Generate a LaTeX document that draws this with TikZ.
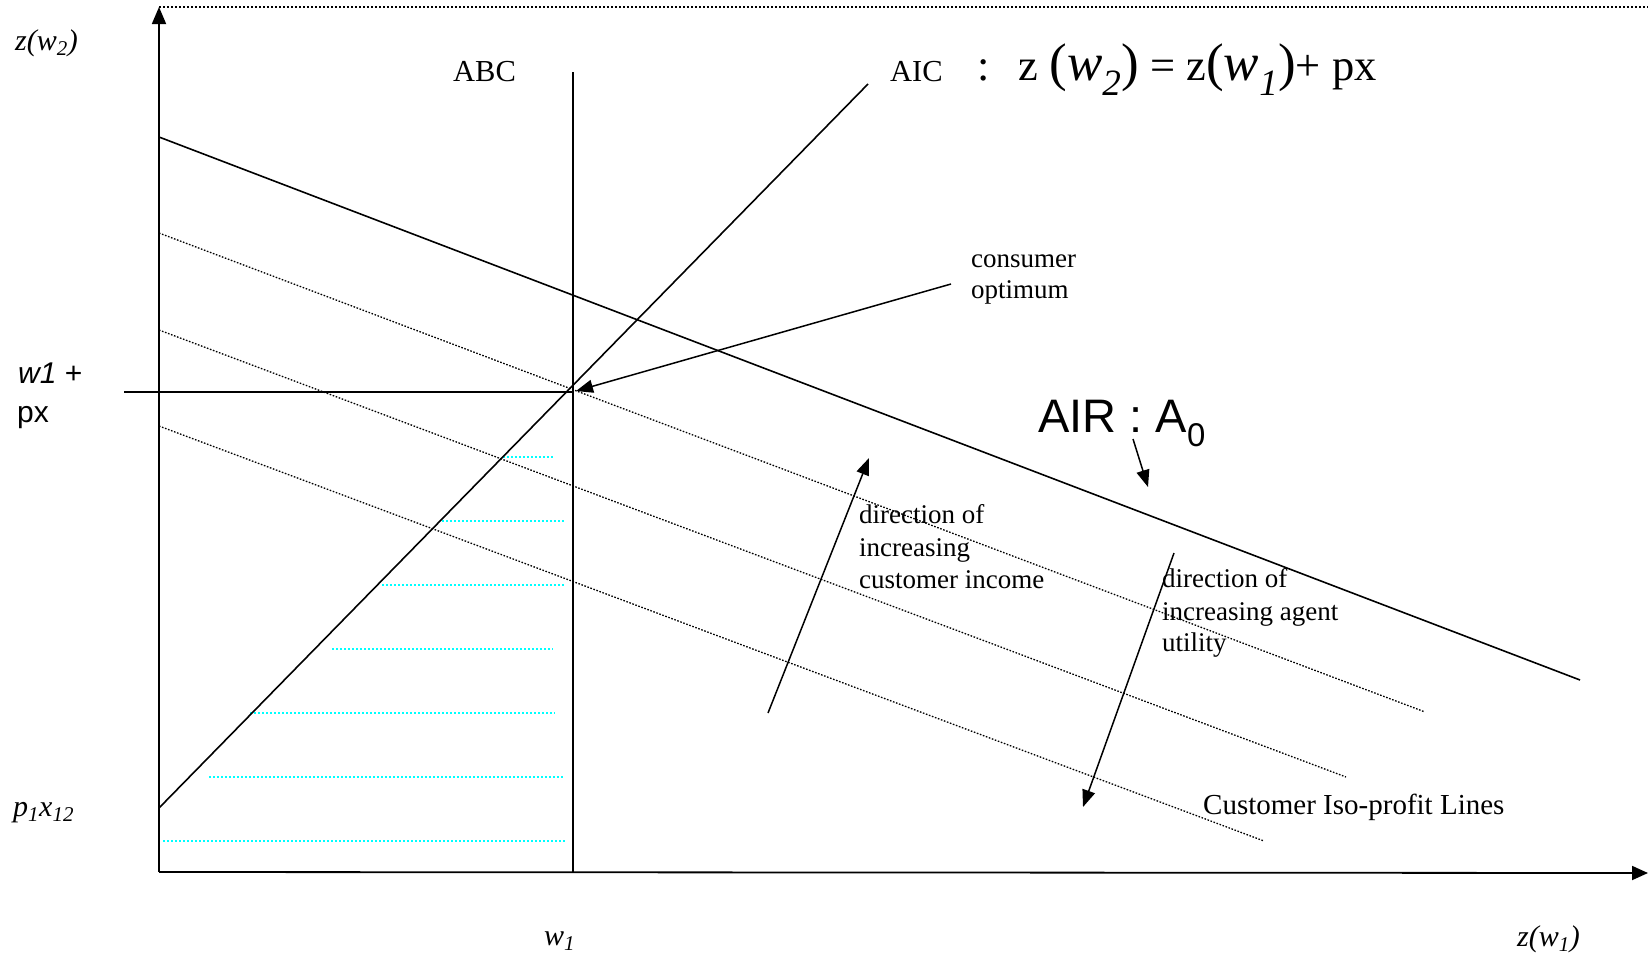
\documentclass[tikz,border=0pt]{standalone}
\usepackage{fontspec}
\setmainfont{Liberation Serif}
\newfontfamily\arialfont{Liberation Sans}
\usetikzlibrary{arrows.meta}
\definecolor{shadecyan}{RGB}{0,255,255}
\begin{document}
\begin{tikzpicture}[x=1pt,y=-1pt,
  axisline/.style={line width=1.8pt},
  curveline/.style={line width=1.6pt},
  isoline/.style={line width=1.3pt, dash pattern=on 1.6pt off 1.6pt},
  topline/.style={line width=1.6pt, dash pattern=on 2pt off 2pt},
  shadeline/.style={shadecyan, line width=1.8pt, dash pattern=on 2pt off 2pt},
  tipped/.style={line width=1.5pt, -{Triangle[length=17pt,width=13pt]}},
  lbl/.style={inner sep=0pt, anchor=base west, font=\fontsize{27}{32}\selectfont},
  biglbl/.style={inner sep=0pt, anchor=base west, font=\fontsize{30.5}{36}\selectfont},
  axlbl/.style={inner sep=0pt, anchor=base west, font=\fontsize{30}{36}\selectfont\itshape},
  sanslbl/.style={inner sep=0pt, anchor=base west, font=\arialfont\fontsize{30}{36}\selectfont},
]
\useasboundingbox (0,0) rectangle (1648,956);

% coordinates
\coordinate (O) at (159,872);
\coordinate (Ytop) at (159,7);
\coordinate (Xend) at (1648,873);
\coordinate (TopR) at (1648,7);
\coordinate (ABCtop) at (573,72);
\coordinate (ABCbot) at (573,872);
\coordinate (AICs) at (159,808);
\coordinate (AICe) at (868,84);
\coordinate (AIRs) at (159,137);
\coordinate (AIRe) at (1580,680);
\coordinate (I1s) at (159,233);
\coordinate (I1e) at (1425,712);
\coordinate (I2s) at (159,330);
\coordinate (I2e) at (1346,777);
\coordinate (I3s) at (159,426);
\coordinate (I3e) at (1264,841);
\coordinate (Hs) at (124,392);
\coordinate (Opt) at (573,392);

% axes
\draw[topline] (Ytop) -- (TopR);
\draw[axisline, -{Triangle[length=17pt,width=14pt]}] (O) -- (Ytop);
\draw[axisline, -{Triangle[length=16pt,width=14pt]}] (O) -- (Xend);

% cyan shading
\foreach \yy/\xa/\xb in {457/503/553, 521/442/565, 585/382/565, 649/332/553, 713/250/555, 777/209/563, 841/163/565}
  \draw[shadeline] (\xa,\yy) -- (\xb,\yy);

% main lines
\draw[curveline] (ABCtop) -- (ABCbot);
\draw[curveline] (AICs) -- (AICe);
\draw[curveline] (AIRs) -- (AIRe);
\draw[curveline] (Hs) -- (Opt);
\draw[isoline] (I1s) -- (I1e);
\draw[isoline] (I2s) -- (I2e);
\draw[isoline] (I3s) -- (I3e);

% arrows
\coordinate (ConsA) at (951,284);
\coordinate (ConsB) at (576,391);
\draw[tipped] (ConsA) -- (ConsB);
\coordinate (AirA) at (1133,439);
\coordinate (AirB) at (1148,487);
\draw[tipped] (AirA) -- (AirB);
\coordinate (IncA) at (768,713);
\coordinate (IncB) at (869,458);
\draw[tipped] (IncA) -- (IncB);
\coordinate (UtA) at (1174,553);
\coordinate (UtB) at (1083,807);
\draw[tipped] (UtA) -- (UtB);

% labels
\node[axlbl] (zw2) at (15,50) {z(w\textsubscript{2})};
\node[sanslbl] (w1p) at (18,383) {\textit{w1} +};
\node[sanslbl] (px) at (17,422) {px};
\node[axlbl] (p1x12) at (13,816) {p\textsubscript{1}x\textsubscript{12}};
\node[axlbl] (w1) at (544,945) {w\textsubscript{1}};
\node[axlbl] (zw1) at (1517,946) {z(w\textsubscript{1})};

\node[biglbl] (abc) at (453,81) {ABC};
\node[biglbl] (aic) at (890,81) {AIC};
\node[inner sep=0pt, anchor=base west, font=\fontsize{44.5}{50}\selectfont] (formula) at (977,80)
  {:\hspace{29pt}z {\fontsize{53}{58}\selectfont(\textit{w}\textsubscript{\itshape 2})} = z{\fontsize{53}{58}\selectfont(\textit{w}\textsubscript{\itshape 1})}+ px};

\node[lbl] (cons1) at (971,267) {consumer};
\node[lbl] (cons2) at (971,298) {optimum};

\node[inner sep=0pt, anchor=base west, font=\arialfont\fontsize{47}{54}\selectfont] (air) at (1038,432) {AIR : A\textsubscript{0}};

\node[lbl] (inc1) at (859,523) {direction of};
\node[lbl] (inc2) at (859,556) {increasing};
\node[lbl] (inc3) at (859,588) {customer income};

\node[lbl] (ut1) at (1162,587) {direction of};
\node[lbl] (ut2) at (1162,620) {increasing agent};
\node[lbl] (ut3) at (1162,651) {utility};

\node[inner sep=0pt, anchor=base west, font=\fontsize{29}{34}\selectfont] (iso) at (1203,814) {Customer Iso-profit Lines};
\end{tikzpicture}
\end{document}
